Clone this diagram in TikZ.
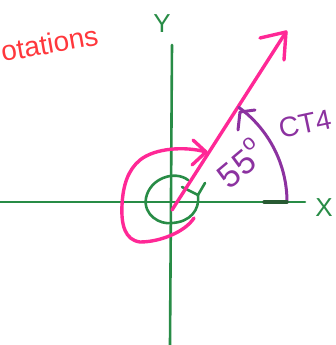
\documentclass[tikz,border=0pt]{standalone}
\usepackage{fontspec}
\setmainfont{Liberation Sans}
\begin{document}
\begin{tikzpicture}[x=1pt,y=-1pt,line cap=round,line join=round]
\definecolor{grn}{RGB}{40,140,70}
\definecolor{dgrn}{RGB}{40,90,50}
\definecolor{pnk}{RGB}{255,40,150}
\definecolor{prp}{RGB}{140,50,160}
\definecolor{rd}{RGB}{255,55,60}
\tikzset{
  gline/.style={draw=grn,line width=2.6pt},
  pline/.style={draw=pnk,line width=3.4pt},
  uline/.style={draw=prp,line width=3pt},
  lbl/.style={inner sep=0pt,anchor=center}
}
\useasboundingbox (0,0) rectangle (336,345);
% axes
\coordinate (O) at (170,203);
\coordinate (xl) at (0,202);
\coordinate (xr) at (305,202);
\coordinate (yt) at (172,45);
\coordinate (yb) at (170,345);
\draw[gline] (xl) -- (xr);
\draw[gline] (yt) -- (yb);
\node[lbl,text=grn,font=\fontsize{26}{26}\selectfont] (Y) at (162,24) {Y};
\node[lbl,text=grn,font=\fontsize{26}{26}\selectfont] (X) at (324,208) {X};
% green small circle
\coordinate (g1) at (188,180);
\coordinate (gt) at (198,195);
\draw[gline] (g1) .. controls (175,170) and (150,178) .. (146,198)
  .. controls (143,215) and (160,225) .. (172,223)
  .. controls (190,222) and (200,210) .. (gt);
\coordinate (gb1) at (182,187);
\coordinate (gb2) at (205,183);
\draw[gline] (gb1) -- (gt) -- (gb2);
% pink arrow line
\coordinate (p0) at (172,210);
\coordinate (ptip) at (286,32);
\coordinate (pb1) at (260,38);
\coordinate (pb2) at (284,60);
\draw[pline] (p0) -- (ptip);
\draw[pline] (pb1) -- (ptip) -- (pb2);
% pink loop
\coordinate (ls) at (194,218);
\coordinate (lt) at (206,152);
\draw[pline] (ls) .. controls (185,232) and (160,242) .. (140,242)
  .. controls (125,240) and (121,225) .. (122,205)
  .. controls (123,185) and (128,170) .. (140,160)
  .. controls (155,148) and (185,146) .. (lt);
\coordinate (lb1) at (193,140);
\coordinate (lb2) at (192,165);
\draw[pline] (lb1) -- (lt) -- (lb2);
% purple angle arc
\coordinate (as) at (287,202);
\draw[uline] (as) arc[start angle=0,end angle=-54,radius=117];
\coordinate (at) at (240,112);
\coordinate (ab1) at (255,110);
\coordinate (ab2) at (238,130);
\draw[uline] (ab1) -- (at) -- (ab2);
\coordinate (d1) at (264,202);
\draw[draw=dgrn,line width=3.4pt] (d1) -- (as);
% labels
\node[lbl,text=prp,rotate=40,font=\fontsize{34}{34}\selectfont] (ang) at (240,163) {55\raisebox{0.5em}{\fontsize{22}{22}\selectfont o}};
\node[lbl,text=prp,rotate=12,font=\fontsize{28}{28}\selectfont] (ct) at (305,124) {CT4};
\node[lbl,text=rd,rotate=10,anchor=west,font=\fontsize{28}{28}\selectfont] (rot) at (1,52) {otations};
\end{tikzpicture}
\end{document}
